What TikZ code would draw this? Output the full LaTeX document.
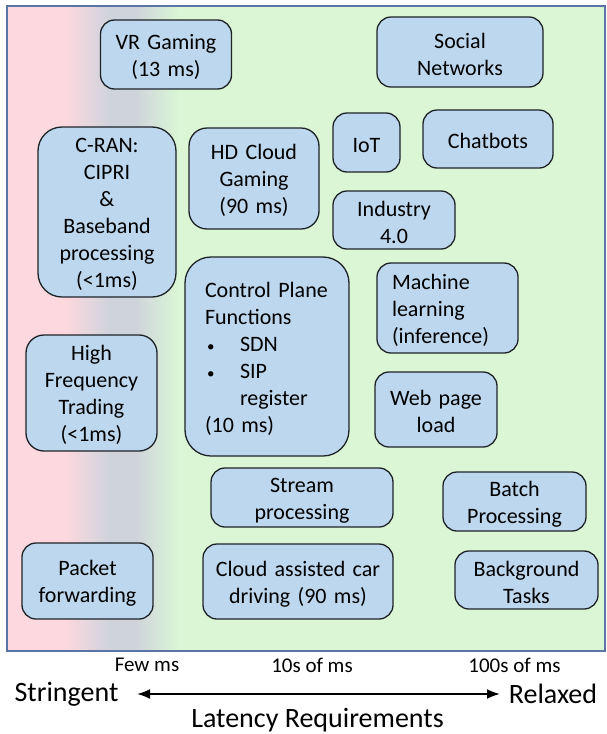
\documentclass[tikz,border=0pt]{standalone}
\usepackage{fontspec}
\setmainfont{Carlito}
\usetikzlibrary{arrows.meta}
\definecolor{pinkbg}{HTML}{FDD8DE}
\definecolor{graybg}{HTML}{CFD3DC}
\definecolor{greenbg}{HTML}{DAF6D5}
\definecolor{boxfill}{HTML}{BDD7EE}
\definecolor{boxline}{HTML}{1E2327}
\definecolor{framecol}{HTML}{5A74A6}
\newcommand{\bul}{\makebox[35pt][l]{\hspace{2pt}{\fontsize{15}{15}\selectfont •}}}
\tikzset{
  basebox/.style={draw=boxline, fill=boxfill, line width=1.3pt, rounded corners=14pt,
    inner sep=0pt, font=\fontsize{22}{27}\selectfont, execute at begin node={\rule{0pt}{20pt}}},
  appbox/.style 2 args={basebox, align=center, minimum width=#1pt, minimum height=#2pt, text width=#1pt},
  leftbox/.style={basebox, align=left},
  axislabel/.style={font=\fontsize{21}{25}\selectfont, inner sep=0pt},
  biglabel/.style={font=\fontsize{28}{33}\selectfont, inner sep=0pt},
  latarrow/.style={line width=2pt, {Latex[length=13pt,width=10pt]}-{Latex[length=13pt,width=10pt]}}
}
\begin{document}
\begin{tikzpicture}[x=1pt,y=-1pt]
\useasboundingbox (0,0) rectangle (606,734);
% background
\fill[pinkbg] (7,6) rectangle (66,651);
\shade[left color=pinkbg, right color=graybg] (65.5,6) rectangle (110,651);
\fill[graybg] (109.5,6) rectangle (135,651);
\shade[left color=graybg, right color=greenbg] (134.5,6) rectangle (178,651);
\fill[greenbg] (177.5,6) rectangle (605,651);
\draw[framecol, line width=1.4pt] (7,6) rectangle (605,651);

% boxes
\node[appbox={131}{69}] (vr) at (166,54.5) {VR Gaming\\(13 ms)};
\node[appbox={166}{70}] (social) at (460,52) {Social\\Networks};
\node[appbox={138}{170}, rounded corners=24pt] (cran) at (107,212) {C-RAN:\\CIPRI\\\&\\Baseband\\processing\\(<1ms)};
\node[appbox={130}{101}, rounded corners=18pt] (hd) at (254,178.5) {HD Cloud\\Gaming\\(90 ms)};
\node[appbox={67}{59}] (iot) at (366.5,142.5) {IoT};
\node[appbox={130}{58}] (chat) at (488,139) {Chatbots};
\node[appbox={122}{58}] (ind) at (394,220) {Industry\\4.0};
\node[leftbox, rounded corners=26pt, minimum width=164pt, minimum height=199pt, text width=124pt, inner xsep=20pt] (ctrl) at (267,356.5)
  {Control Plane\\Functions\\\bul SDN\\\bul SIP\\\hspace*{35pt}register\\(10 ms)};
\node[leftbox, minimum width=141pt, minimum height=90pt, text width=111pt, inner xsep=15pt] (ml) at (447.5,308) {Machine\\learning\\(inference)};
\node[appbox={122}{75}] (web) at (436,409.5) {Web page\\load};
\node[appbox={131}{116}, rounded corners=18pt] (hft) at (91.5,393) {High\\Frequency\\Trading\\(<1ms)};
\node[appbox={182}{59}] (stream) at (302,497.5) {Stream\\processing};
\node[appbox={143}{59}] (batch) at (514.5,501.5) {Batch\\Processing};
\node[appbox={131}{76}] (packet) at (87.5,581) {Packet\\forwarding};
\node[appbox={190}{75}] (car) at (298,581.5) {Cloud assisted car\\driving (90 ms)};
\node[appbox={143}{58}] (bg) at (526.5,580) {Background\\Tasks};

% axis
\node[axislabel] (few) at (147,665) {Few ms};
\node[axislabel] (tens) at (312,665) {10s of ms};
\node[axislabel] (hund) at (514.5,665) {100s of ms};
\node[biglabel] (str) at (66.5,694) {Stringent};
\node[biglabel] (rel) at (553,694) {Relaxed};
\node[biglabel] (lat) at (317.5,720) {Latency Requirements};
\coordinate (al) at (137,694);
\coordinate (ar) at (500,694);
\draw[latarrow] (al) -- (ar);
\end{tikzpicture}
\end{document}
